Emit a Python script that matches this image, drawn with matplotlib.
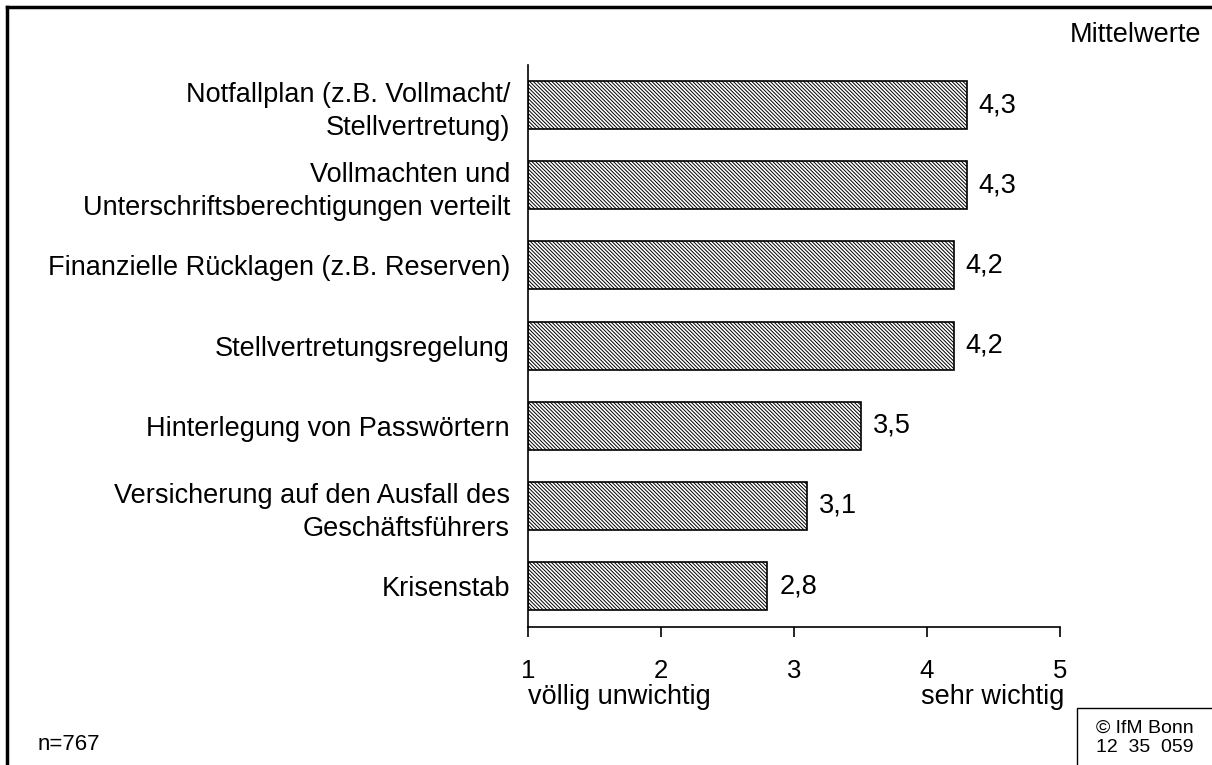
import numpy as np
import matplotlib.pyplot as plt
from matplotlib.lines import Line2D
from matplotlib.patches import Rectangle

plt.rcParams['font.family'] = ['Liberation Sans', 'DejaVu Sans']
plt.rcParams['hatch.color'] = '#7a7a7a'
plt.rcParams['hatch.linewidth'] = 0.7

categories = ['Notfallplan (z.B. Vollmacht/\nStellvertretung)',
              'Vollmachten und\nUnterschriftsberechtigungen verteilt',
              'Finanzielle Rücklagen (z.B. Reserven)',
              'Stellvertretungsregelung',
              'Hinterlegung von Passwörtern',
              'Versicherung auf den Ausfall des\nGeschäftsführers',
              'Krisenstab']
values = [4.3, 4.3, 4.2, 4.2, 3.5, 3.1, 2.8]
value_labels = ['4,3', '4,3', '4,2', '4,2', '3,5', '3,1', '2,8']
ticks = [1, 2, 3, 4, 5]

fs = 19.5

fig = plt.figure(figsize=(12.12, 7.65), dpi=100)
ax = fig.add_axes([528/1212, 1 - 627/765, 532/1212, 562/765])

y = np.arange(len(categories))
ax.barh(y, np.array(values) - 1, left=1, height=0.6, color='white',
        edgecolor='black', linewidth=1.2, hatch='\\' * 9)

for yi, v, lab in zip(y, values, value_labels):
    ax.text(v + 0.09, yi, lab, va='center', ha='left', fontsize=fs)

ax.set_xlim(1, 5)
ax.set_ylim(len(categories) - 1 + 0.51, -0.5)
ax.set_yticks(y)
ax.set_yticklabels(categories, fontsize=fs, linespacing=1.35)
ax.tick_params(axis='y', length=0, pad=13)
ax.set_xticks(ticks)
ax.set_xticklabels([str(t) for t in ticks], fontsize=18.5)
ax.tick_params(axis='x', length=7, width=1.2, direction='out', pad=16, color='black')
for s in ['top', 'right']:
    ax.spines[s].set_visible(False)
ax.spines['left'].set_linewidth(1.2)
ax.spines['bottom'].set_linewidth(1.2)

fig.text(528/1212, 1 - 697/765, 'völlig unwichtig', ha='left', va='center', fontsize=fs)
fig.text(1064/1212, 1 - 697/765, 'sehr wichtig', ha='right', va='center', fontsize=fs)
fig.text(1201/1212, 1 - 35/765, 'Mittelwerte', ha='right', va='center', fontsize=fs)
fig.text(38/1212, 1 - 745/765, 'n=767', ha='left', va='center', fontsize=16)

# outer frame: top and left edges
fig.add_artist(Line2D([7/1212, 1], [1 - 7/765, 1 - 7/765], color='black', lw=2.5))
fig.add_artist(Line2D([7/1212, 7/1212], [0, 1 - 7/765], color='black', lw=2.5))

# copyright box
fig.add_artist(Rectangle((1077/1212, -0.01), 0.2, (765 - 708)/765 + 0.01,
                         facecolor='white', edgecolor='black', lw=1.0,
                         transform=fig.transFigure))
fig.text(1145/1212, 1 - 728/765, '© IfM Bonn', ha='center', va='center', fontsize=14)
fig.text(1145/1212, 1 - 748/765, '12  35  059', ha='center', va='center', fontsize=14)

fig.savefig('out.png', dpi=100)
